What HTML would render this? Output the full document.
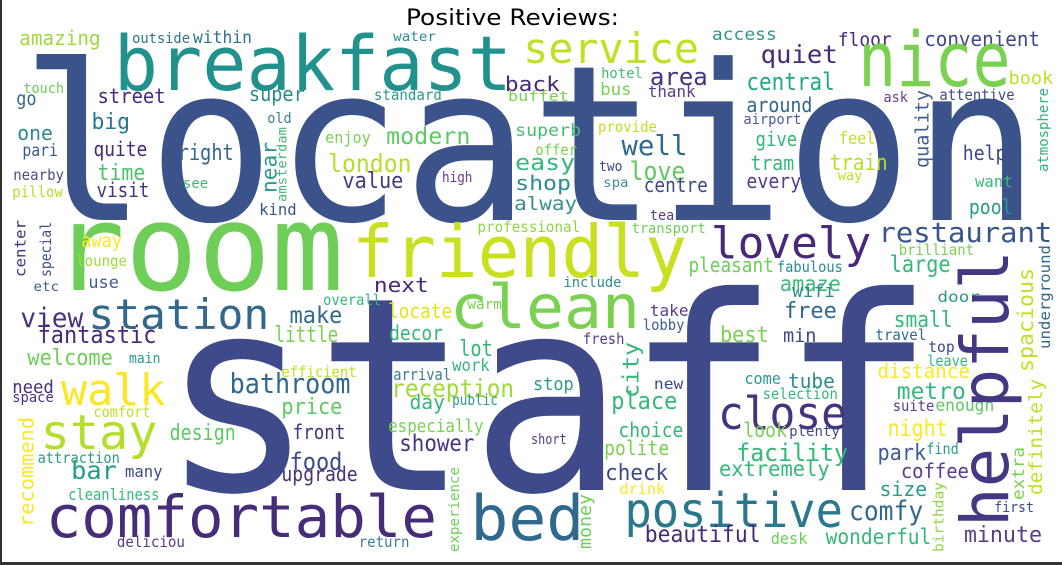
<!DOCTYPE html>
<html><head><meta charset="utf-8"><style>
html,body{margin:0;padding:0;background:#fff;}
#wrap{position:relative;width:1062px;height:565px;overflow:hidden;background:#fff;}
svg{position:absolute;left:0;top:0;}
text{font-family:"DejaVu Sans Mono","Liberation Mono",monospace;}
</style></head><body>
<div id="wrap">
<svg id="cloud" width="1062" height="565" viewBox="0 0 1062 565">
<rect x="0" y="0" width="2" height="565" fill="#333"/>
<rect x="0" y="562" width="1062" height="3" fill="#333"/>
<text x="406" y="25" font-size="22" textLength="213" lengthAdjust="spacingAndGlyphs" style="font-family:'DejaVu Sans','Liberation Sans',sans-serif" fill="#000">Positive Reviews:</text>
</svg>
</div>
<script>
// big words: true coordinates [text, x, baseline, width, fontSize, color]
const bigWords = [
["location",20,220,1020,217,"#3b528b"],
["staff",160,490,775,270,"#3e4a89"],
["room",52,290,292,120,"#6ece58"],
["friendly",352,277,335,72,"#c8e020"],
["clean",450,328,190,61,"#7ad151"]
];
const words = [
["amazing",19,45,80,20,"#a0da39"],["outside",130,43,57,14,"#2c728e"],["within",190,43,58,17,"#2c728e"],
["water",387,41,42,13,"#2e8b9a"],["breakfast",112,90,392,76,"#21918c"],["touch",23,93,40,14,"#6ccd5a"],
["go",16,105,20,19,"#31688e"],["street",96,103,67,20,"#482878"],["super",245,101,55,20,"#2a8a8e"],
["standard",368,100,67,15,"#2e978c"],["big",90,129,38,22,"#2a788e"],["old",263,123,24,14,"#3a7f8e"],
["one",17,140,35,20,"#2c8a8e"],["enjoy",320,143,45,16,"#7ad151"],["modern",380,144,83,23,"#5ec962"],
["pari",22,156,35,17,"#38598c"],["quite",92,156,53,20,"#482878"],["right",175,160,55,22,"#31688e"],
["london",323,172,82,25,"#b5de2b"],["value",337,188,60,22,"#443983"],["high",435,182,30,14,"#6b3a8e"],
["nearby",13,180,50,15,"#4a4c8a"],["time",96,180,47,22,"#4ac16d"],["see",180,188,25,14,"#3bbb75"],
["pillow",12,197,50,15,"#b8de29"],["visit",95,197,52,20,"#46337f"],["kind",255,215,37,16,"#39568c"],
["away",80,247,40,19,"#fde725"],["lounge",75,266,50,15,"#a0da39"],["professional",470,232,101,15,"#8ed645"],
["service",515,63,173,42,"#c2df23"],["access",709,40,64,17,"#2a9a8b"],["floor",833,46,53,19,"#482878"],
["convenient",918,46,114,20,"#3e4989"],["quiet",757,63,76,25,"#482878"],["nice",853,86,150,76,"#7ad151"],
["area",648,85,57,24,"#46337f"],["hotel",600,78,41,14,"#3fbc73"],["book",1001,84,44,18,"#c2df23"],
["central",743,90,87,24,"#22a884"],["bus",599,95,31,17,"#7ad151"],["thank",646,97,47,16,"#5b3b8c"],
["back",497,91,54,20,"#482878"],["buffet",500,101,60,14,"#7ad151"],["ask",878,102,24,14,"#6b3a8e"],
["attentive",933,100,74,15,"#3e4989"],["around",743,112,65,20,"#31688e"],["airport",740,124,57,14,"#4a5a9a"],
["superb",507,136,65,17,"#44bf70"],["provide",597,132,58,15,"#c2df23"],["feel",834,144,36,17,"#c2df23"],
["give",752,146,41,20,"#35b779"],["well",620,155,65,28,"#31688e"],["offer",527,155,41,15,"#7ad151"],
["help",956,160,43,20,"#3e4989"],["easy",507,170,59,22,"#35b779"],["two",598,171,23,14,"#3e4989"],
["love",628,180,55,26,"#5ec962"],["tram",747,170,43,20,"#35b779"],["train",825,170,57,22,"#b5de2b"],
["way",833,180,24,13,"#c2df23"],["want",968,187,37,16,"#3bbb75"],["shop",507,190,55,20,"#2c8c8d"],
["spa",602,187,25,13,"#3a8ea0"],["centre",642,192,63,20,"#3e4989"],["every",743,188,54,20,"#5b3b8c"],
["alway",506,210,62,19,"#3a8e8e"],["pool",962,214,43,20,"#2a9a8b"],["tea",648,220,24,14,"#5b3b8c"],
["transport",630,233,73,14,"#6ece58"],["lovely",708,258,158,44,"#482878"],["restaurant",873,242,171,28,"#39568c"],
["brilliant",893,255,74,15,"#7ad151"],["pleasant",686,272,84,20,"#6ece58"],["fabulous",773,272,65,15,"#2c8c8d"],
["large",884,272,60,23,"#35b779"],["amaze",776,291,60,21,"#3bbb75"],["include",563,287,57,14,"#2c8c8d"],
["wifi",788,297,42,18,"#2c8c8d"],["door",931,302,42,15,"#2a9a8b"],["small",888,327,58,22,"#35b779"],
["take",648,316,38,16,"#5b3b8c"],["free",780,318,52,22,"#31688e"],["lobby",641,330,41,15,"#3e5c8e"],
["best",717,342,48,22,"#7ad151"],["min",779,342,33,19,"#3e4989"],["fresh",582,344,41,15,"#5b3b8c"],
["travel",870,340,50,15,"#31688e"],["top",922,352,26,15,"#3e4989"],["leave",921,366,40,15,"#35b779"],
["distance",872,378,91,20,"#fde725"],["stop",533,390,40,18,"#2a9a8b"],["new",652,389,29,15,"#3e4989"],
["come",741,384,36,16,"#2a9a8b"],["tube",784,388,46,20,"#2c8c8d"],["selection",759,399,74,15,"#35b779"],
["metro",891,399,68,23,"#35b779"],["close",715,429,127,45,"#46337f"],["place",610,409,65,24,"#35b779"],
["suite",887,411,41,15,"#5b3b8c"],["enough",929,411,58,17,"#5ec962"],["choice",617,437,64,20,"#35b779"],
["look",740,437,43,20,"#7ad151"],["plenty",785,436,50,14,"#3e4989"],["night",882,436,59,23,"#fde725"],
["short",531,444,35,14,"#5b3b8c"],["polite",603,455,64,20,"#7ad151"],["find",920,454,32,15,"#2a9a8b"],
["facility",733,461,110,24,"#35b779"],["park",872,460,48,22,"#3e5c8e"],["check",604,480,62,22,"#3e4989"],
["extremely",716,476,109,21,"#35b779"],["coffee",895,478,67,20,"#5b3b8c"],["drink",618,494,45,15,"#fde725"],
["size",874,496,47,20,"#2a9a8b"],["first",987,512,39,14,"#3e4989"],["positive",623,527,215,48,"#2a788e"],
["comfy",844,520,73,27,"#31688e"],["beautiful",643,542,114,23,"#482878"],["desk",767,544,36,16,"#6ece58"],
["wonderful",821,544,104,21,"#35b779"],["minute",957,542,77,22,"#5b3b8c"],
["etc",33,291,25,13,"#3e5c8e"],["use",87,288,30,17,"#3e5c8e"],["next",368,292,54,20,"#482878"],
["overall",318,305,57,15,"#35b779"],["view",20,327,62,27,"#46337f"],["station",87,329,178,42,"#31688e"],
["make",285,323,52,23,"#31688e"],["locate",382,318,63,20,"#e2e418"],["warm",460,309,34,14,"#7ad151"],
["fantastic",37,343,117,24,"#482878"],["little",270,342,63,22,"#7ad151"],["decor",383,340,53,20,"#35b779"],
["lot",452,356,33,22,"#35b779"],["main",127,363,31,14,"#2a9a8b"],["welcome",27,365,84,22,"#6ece58"],
["efficient",277,377,74,15,"#c2df23"],["work",445,371,37,17,"#35b779"],["arrival",387,380,57,16,"#3e7a9a"],
["walk",60,405,103,44,"#fde725"],["need",12,393,41,18,"#46337f"],["space",12,402,41,14,"#46337f"],
["bathroom",226,393,119,28,"#31688e"],["reception",385,397,121,25,"#a0da39"],["comfort",92,417,56,15,"#c2df23"],
["price",277,414,60,22,"#5ec962"],["day",403,409,35,20,"#35b779"],["public",445,405,45,15,"#2a9a8b"],
["stay",40,449,115,48,"#b5de2b"],["especially",382,432,94,18,"#7ad151"],["design",167,440,65,22,"#5ec962"],
["front",288,439,52,20,"#46337f"],["shower",393,451,74,23,"#46337f"],["attraction",37,463,81,15,"#2a9a8b"],
["food",285,470,52,24,"#3e4989"],["bar",70,479,45,25,"#1f9e89"],["many",123,477,37,16,"#3e4989"],
["upgrade",277,481,75,20,"#46337f"],["cleanliness",67,500,90,16,"#35b779"],["comfortable",45,537,385,58,"#472c7a"],
["bed",463,540,112,62,"#30698e"],["deliciou",115,547,67,15,"#5b3b8c"],["return",353,547,50,15,"#3e7a9a"]
];
// vertical words [text, baselineX, bottomY, length, fontSize, color]
const vWords = [
["near",272,193,51,21,"#2a9b8a"],["amsterdam",282,202,75,13,"#48b57c"],["center",25,277,57,15,"#46337f"],
["special",50,277,55,15,"#3d4f8a"],["recommend",33,527,110,20,"#fde725"],["experience",452,552,85,14,"#6ece58"],
["money",590,549,55,18,"#6ece58"],["city",637,398,56,22,"#35b779"],["birthday",937,552,70,14,"#8ed645"],
["extra",1016,500,53,17,"#7ad151"],["definitely",1034,495,116,19,"#c2df23"],["spacious",1025,372,104,21,"#c2df23"],
["underground",1042,349,104,15,"#31688e"],["quality",922,168,78,19,"#3e5c8e"],["atmosphere",1040,172,84,14,"#2eb37c"]
];
const helpfulWord = ["helpful",1008,527,277,66,"#453781"];

const svg = document.getElementById('cloud');
const NS = 'http://www.w3.org/2000/svg';
const K = 1.016;
function fx(x){ return x < 531 ? x*K : 531 + (x-531)*K; }
function addH(w, corr){
  const t = document.createElementNS(NS,'text');
  t.setAttribute('x', corr ? fx(w[1]) : w[1]);
  t.setAttribute('y', w[2]);
  t.setAttribute('font-size', w[4]);
  t.setAttribute('textLength', corr ? w[3]*K : w[3]);
  t.setAttribute('lengthAdjust','spacingAndGlyphs');
  t.setAttribute('fill', w[5]);
  
  
  t.textContent = w[0];
  svg.appendChild(t);
}
function addV(w, corr){
  const t = document.createElementNS(NS,'text');
  const bx = corr ? fx(w[1]) : w[1];
  t.setAttribute('transform','translate(' + bx + ',' + w[2] + ') rotate(-90)');
  t.setAttribute('x', 0);
  t.setAttribute('y', 0);
  t.setAttribute('font-size', w[4]);
  t.setAttribute('textLength', w[3]);
  t.setAttribute('lengthAdjust','spacingAndGlyphs');
  t.setAttribute('fill', w[5]);
  
  
  t.textContent = w[0];
  svg.appendChild(t);
}
bigWords.forEach(w => addH(w, false));
words.forEach(w => addH(w, true));
vWords.forEach(w => addV(w, true));
addV(helpfulWord, false);
</script>
</body></html>
